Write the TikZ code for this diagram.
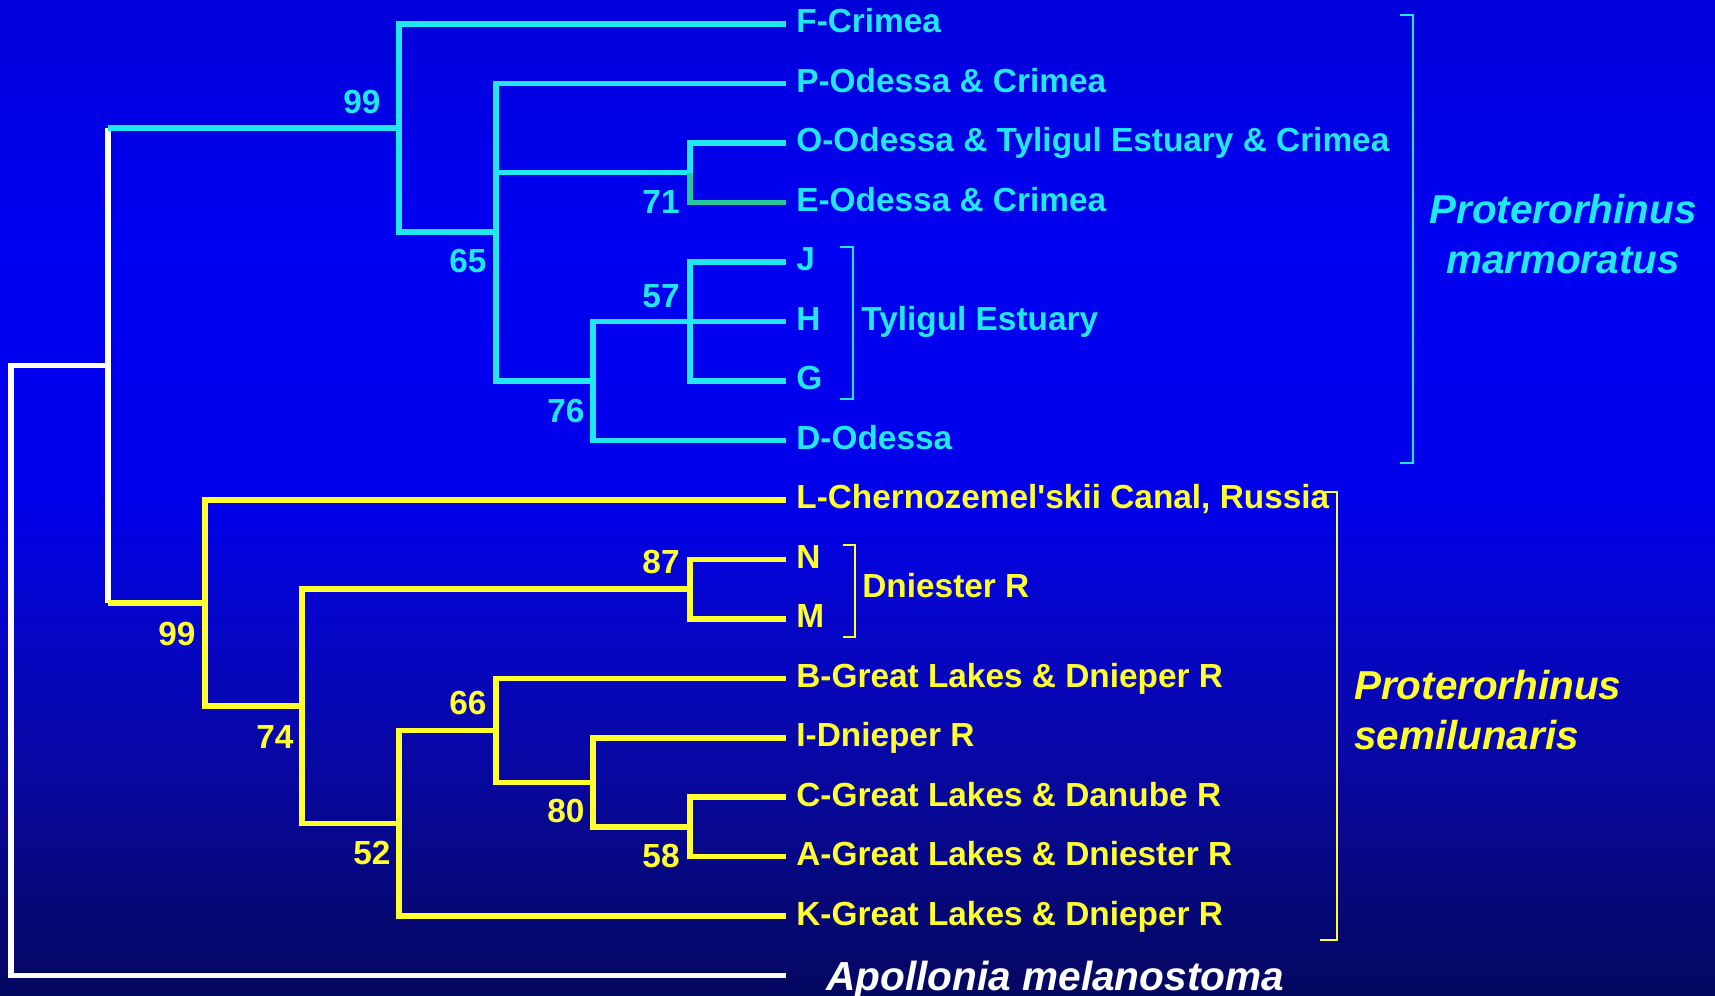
\documentclass[tikz,border=0pt]{standalone}
\usepackage{fontspec}
\setmainfont{Liberation Sans}
\usepackage{tikz}
\usepackage{xcolor}
\definecolor{bgA}{HTML}{040860}
\definecolor{bgB}{HTML}{06087A}
\definecolor{bgC}{HTML}{0808A8}
\definecolor{bgD}{HTML}{0505D0}
\definecolor{bgE}{HTML}{0000EA}
\definecolor{bgF}{HTML}{0000F2}
\definecolor{bgG}{HTML}{0000DA}
\definecolor{pmcyan}{HTML}{22E6F4}
\definecolor{pmgreen}{HTML}{26C8A0}
\definecolor{psyellow}{HTML}{FFFF30}
\pgfdeclareverticalshading{slidebg}{100bp}{color(0bp)=(bgA); color(25bp)=(bgA);
  color(30bp)=(bgB); color(37.5bp)=(bgC); color(45bp)=(bgD); color(50bp)=(bgE);
  color(62.5bp)=(bgF); color(75bp)=(bgG); color(100bp)=(bgG)}

\begin{document}
\begin{tikzpicture}[x=0.02cm,y=-0.02cm,font=\bfseries\fontsize{19}{22}\selectfont,
  branch/.style={line width=0.11cm},
  brace/.style={line width=0.04cm},
  leaf/.style={anchor=west,inner xsep=0.2cm,inner ysep=0pt,text height=13.6pt,text depth=3.4pt},
  boot/.style={inner sep=0pt},
  species/.style={font=\bfseries\itshape\fontsize{23}{28}\selectfont}]
  \useasboundingbox (0,0) rectangle (1715,996);
  \shade[shading=slidebg] (0,0) rectangle (1715,996);

  \coordinate (root) at (11,365.6);
  \coordinate (top)  at (108,365.6);
  \coordinate (m99)  at (399,128.1);
  \coordinate (m65)  at (496,232.2);
  \coordinate (m71)  at (690,172.7);
  \coordinate (m76)  at (593,380.9);
  \coordinate (m57)  at (690,321.4);
  \coordinate (s99)  at (205,603.0);
  \coordinate (s74)  at (302,706.2);
  \coordinate (s87)  at (690,589.1);
  \coordinate (s52)  at (399,823.3);
  \coordinate (s66)  at (496,730.3);
  \coordinate (s80)  at (593,782.4);
  \coordinate (s58)  at (690,827.0);

  \node[leaf,pmcyan] (F) at (786,24.0)  {F-Crimea};
  \node[leaf,pmcyan] (P) at (786,83.5)  {P-Odessa \& Crimea};
  \node[leaf,pmcyan] (O) at (786,143.0) {O-Odessa \& Tyligul Estuary \& Crimea};
  \node[leaf,pmcyan] (E) at (786,202.4) {E-Odessa \& Crimea};
  \node[leaf,pmcyan] (J) at (786,261.9) {J};
  \node[leaf,pmcyan] (H) at (786,321.4) {H};
  \node[leaf,pmcyan] (G) at (786,380.9) {G};
  \node[leaf,pmcyan] (D) at (786,440.4) {D-Odessa};
  \node[leaf,psyellow] (L) at (786,499.8) {L-Chernozemel\textquotesingle skii Canal, Russia};
  \node[leaf,psyellow] (N) at (786,559.3) {N};
  \node[leaf,psyellow] (M) at (786,618.8) {M};
  \node[leaf,psyellow] (B) at (786,678.3) {B-Great Lakes \& Dnieper R};
  \node[leaf,psyellow] (I) at (786,737.8) {I-Dnieper R};
  \node[leaf,psyellow] (C) at (786,797.2) {C-Great Lakes \& Danube R};
  \node[leaf,psyellow] (A) at (786,856.7) {A-Great Lakes \& Dniester R};
  \node[leaf,psyellow] (K) at (786,916.2) {K-Great Lakes \& Dnieper R};
  \node[leaf,white,inner xsep=0.8cm,text height=16.5pt,text depth=0pt,
        font=\bfseries\itshape\fontsize{23.1}{26}\selectfont] (Apo) at (786,975.7)
    {Apollonia melanostoma};

  \draw[branch,white] (Apo.west) -| (root) -- (top);
  \draw[branch,white] (top |- m99) -- (top |- s99);
  \draw[branch,pmcyan] (top |- m99) -- (m99);
  \draw[branch,psyellow] (top |- s99) -- (s99);

  \foreach \a/\b in {m99/F.west,m99/m65,m65/P.west,m65/m71,m65/m76,m71/O.west,
                     m76/m57,m76/D.west,m57/J.west,m57/H.west,m57/G.west}
    \draw[branch,pmcyan] (\a) |- (\b);
  \draw[branch,pmgreen] (m71) |- (E.west);
  \foreach \a/\b in {s99/L.west,s99/s74,s74/s87,s74/s52,s87/N.west,s87/M.west,
                     s52/s66,s52/K.west,s66/B.west,s66/s80,s80/I.west,s80/s58,
                     s58/C.west,s58/A.west}
    \draw[branch,psyellow] (\a) |- (\b);

  \node[boot,pmcyan] (b99m) at (362,102) {99};
  \node[boot,pmcyan] (b65)  at (468,261) {65};
  \node[boot,pmcyan] (b71)  at (661,202) {71};
  \node[boot,pmcyan] (b57)  at (661,296) {57};
  \node[boot,pmcyan] (b76)  at (566,411) {76};
  \node[boot,psyellow] (b87)  at (661,562) {87};
  \node[boot,psyellow] (b99s) at (177,634) {99};
  \node[boot,psyellow] (b74)  at (275,737) {74};
  \node[boot,psyellow] (b52)  at (372,853) {52};
  \node[boot,psyellow] (b66)  at (468,703) {66};
  \node[boot,psyellow] (b80)  at (566,811) {80};
  \node[boot,psyellow] (b58)  at (661,856) {58};

  \draw[brace,pmcyan] (840,247) -- (853,247) -- (853,399) -- (840,399);
  \node[leaf,pmcyan,inner xsep=0pt] (tyl) at (861,321.4) {Tyligul Estuary};
  \draw[brace,pmcyan] (1400,15) -- (1413,15) -- (1413,463) -- (1400,463);
  \node[species,pmcyan,align=center] (pmar) at (1563,234) {Proterorhinus\\marmoratus};

  \draw[brace,psyellow] (843,545) -- (855,545) -- (855,637) -- (843,637);
  \node[leaf,psyellow,inner xsep=0pt] (dni) at (862,589) {Dniester R};
  \draw[brace,psyellow] (1325,492) -- (1337,492) -- (1337,940) -- (1320,940);
  \node[species,psyellow,align=left,anchor=west] (psem) at (1348,710) {Proterorhinus\\semilunaris};
\end{tikzpicture}
\end{document}
